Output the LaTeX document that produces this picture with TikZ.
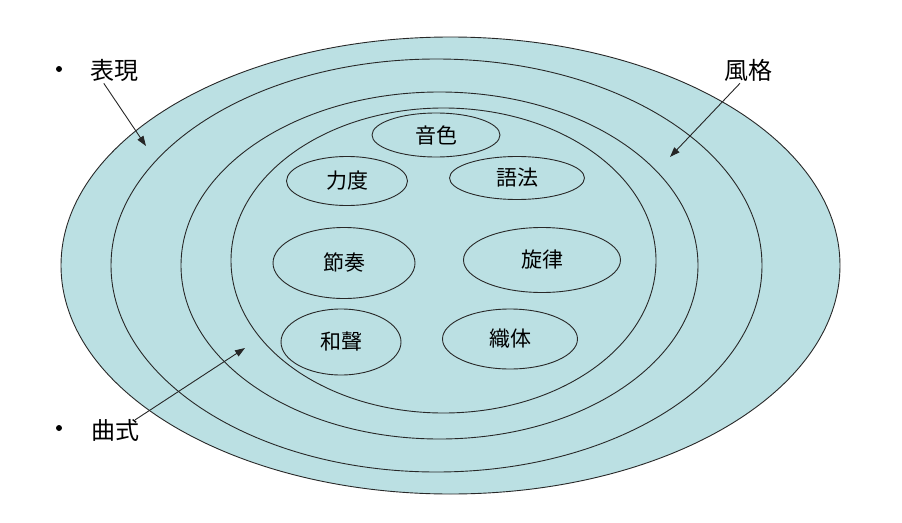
\documentclass[tikz,border=0pt]{standalone}
\usepackage{fontspec}
\setmainfont{Noto Sans CJK JP}
\usetikzlibrary{shapes.geometric,arrows.meta}
\definecolor{ringfill}{RGB}{187,224,227}
\definecolor{ringline}{RGB}{40,40,40}
\tikzset{
  ring/.style={ellipse, draw=ringline, line width=0.9pt, fill=ringfill, inner sep=0pt},
  item/.style={ellipse, draw=ringline, line width=0.9pt, fill=ringfill, inner sep=0pt, font=\fontsize{21}{24}\selectfont},
  lab/.style={font=\fontsize{24}{28}\selectfont, inner sep=0pt},
  pointer/.style={draw=black!85, line width=0.9pt, -{Triangle[length=10pt,width=7pt]}},
  dot/.style={circle, fill=black, inner sep=0pt, minimum size=6pt}
}
\begin{document}
\begin{tikzpicture}[x=1pt,y=-1pt]
\useasboundingbox (0,0) rectangle (902,522);
\node[ring, minimum width=779pt, minimum height=457pt] (r1) at (450.5,265.5) {};
\node[ring, minimum width=651pt, minimum height=413pt] (r2) at (436.5,265.5) {};
\node[ring, minimum width=517pt, minimum height=347pt] (r3) at (439.5,265.5) {};
\node[ring, minimum width=425pt, minimum height=305pt] (r4) at (443.5,260.5) {};

\node[item, minimum width=128pt, minimum height=44pt] (a) at (436,135) {音色};
\node[item, minimum width=121pt, minimum height=49pt] (b) at (347,181) {力度};
\node[item, minimum width=135pt, minimum height=43pt] (c) at (517,178) {語法};
\node[item, minimum width=142pt, minimum height=71pt] (d) at (344,263) {節奏};
\node[item, minimum width=157pt, minimum height=65pt] (e) at (542,260) {旋律};
\node[item, minimum width=120pt, minimum height=66pt] (f) at (341,342) {和聲};
\node[item, minimum width=135pt, minimum height=60pt] (g) at (510,339) {織体};

\node[dot] (d1) at (59,69) {};
\node[lab] (t1) at (114,70) {表現};
\node[lab] (t2) at (748,70) {風格};
\node[dot] (d3) at (59,428) {};
\node[lab] (t3) at (115,430) {曲式};

\coordinate (p1) at (146,146);
\coordinate (p2) at (670,157);
\coordinate (p3) at (245,348);
\draw[pointer] (t1.south west) ++(14pt,-2pt) coordinate (s1) -- (p1);
\draw[pointer] (t2.south) ++(-8pt,-2pt) coordinate (s2) -- (p2);
\draw[pointer] (t3.north east) ++(-4pt,-1pt) coordinate (s3) -- (p3);
\end{tikzpicture}
\end{document}
